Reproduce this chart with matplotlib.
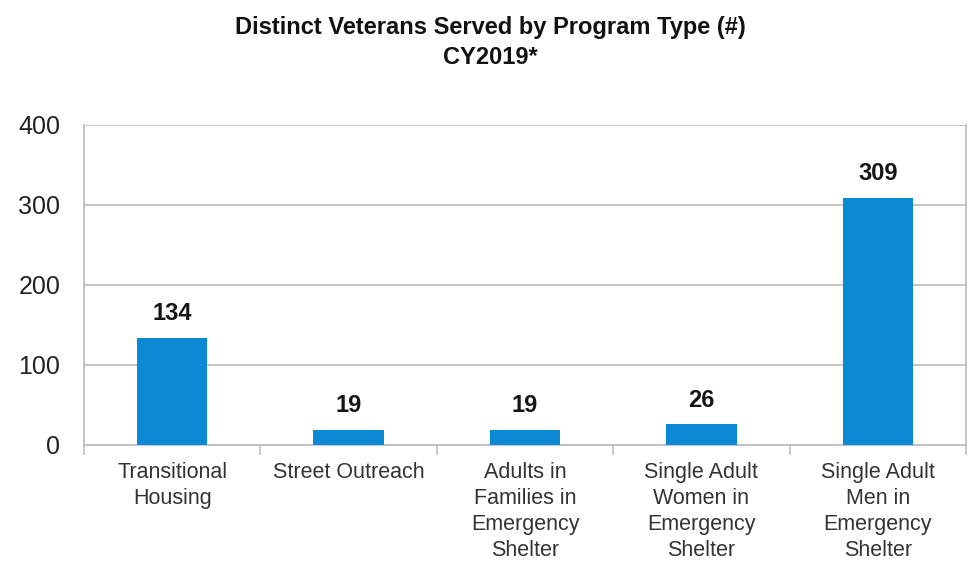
import matplotlib.pyplot as plt
import numpy as np

# Veterans served, calendar year 2019
programs = [
    "Transitional\nHousing",
    "Street Outreach",
    "Adults in\nFamilies in\nEmergency\nShelter",
    "Single Adult\nWomen in\nEmergency\nShelter",
    "Single Adult\nMen in\nEmergency\nShelter",
]
veterans = [134, 19, 19, 26, 309]
y_ticks = [0, 100, 200, 300, 400]

BAR_COLOR = "#0B89D5"
GRID_COLOR = "#BFBFBF"
SANS = ["Liberation Sans", "DejaVu Sans"]

fig = plt.figure(figsize=(9.71, 5.62), dpi=100)
ax = fig.add_axes([0.0865, 0.2082, 0.9084, 0.5694])

x = np.arange(len(programs))
bars = ax.bar(x, veterans, width=0.4, color=BAR_COLOR, zorder=3)

# value labels above each bar
for rect, val in zip(bars, veterans):
    ax.annotate(f"{val}", xy=(rect.get_x() + rect.get_width() / 2, val),
                xytext=(0, 9), textcoords="offset points",
                ha="center", va="bottom", fontsize=17, fontweight="bold",
                family=SANS, color="#151515")

ax.set_xlim(-0.5, len(programs) - 0.5)
ax.set_ylim(0, 400)
ax.set_yticks(y_ticks)
ax.set_yticklabels([str(t) for t in y_ticks], family=SANS,
                   fontsize=18, color="#222222")
ax.tick_params(axis="y", length=0, pad=17)

# category labels centred, tick marks between categories
ax.set_xticks(x)
ax.set_xticklabels(programs, family=SANS, fontsize=15.5, color="#333333",
                   linespacing=1.33)
ax.tick_params(axis="x", which="major", length=0, pad=12)
ax.set_xticks(np.arange(-0.5, len(programs), 1.0), minor=True)
ax.tick_params(axis="x", which="minor", length=7, width=1.2, color=GRID_COLOR)

ax.yaxis.grid(True, color=GRID_COLOR, linewidth=1.3, zorder=0)
ax.set_axisbelow(True)
ax.spines["top"].set_visible(False)
for side in ["left", "right", "bottom"]:
    ax.spines[side].set_color(GRID_COLOR)
    ax.spines[side].set_linewidth(1.3)

fig.text(0.505, 0.972, "Distinct Veterans Served by Program Type (#)\nCY2019*",
         ha="center", va="top", fontsize=17, fontweight="bold",
         family=SANS, linespacing=1.4, color="#111111")

fig.savefig("out.png", dpi=100)
